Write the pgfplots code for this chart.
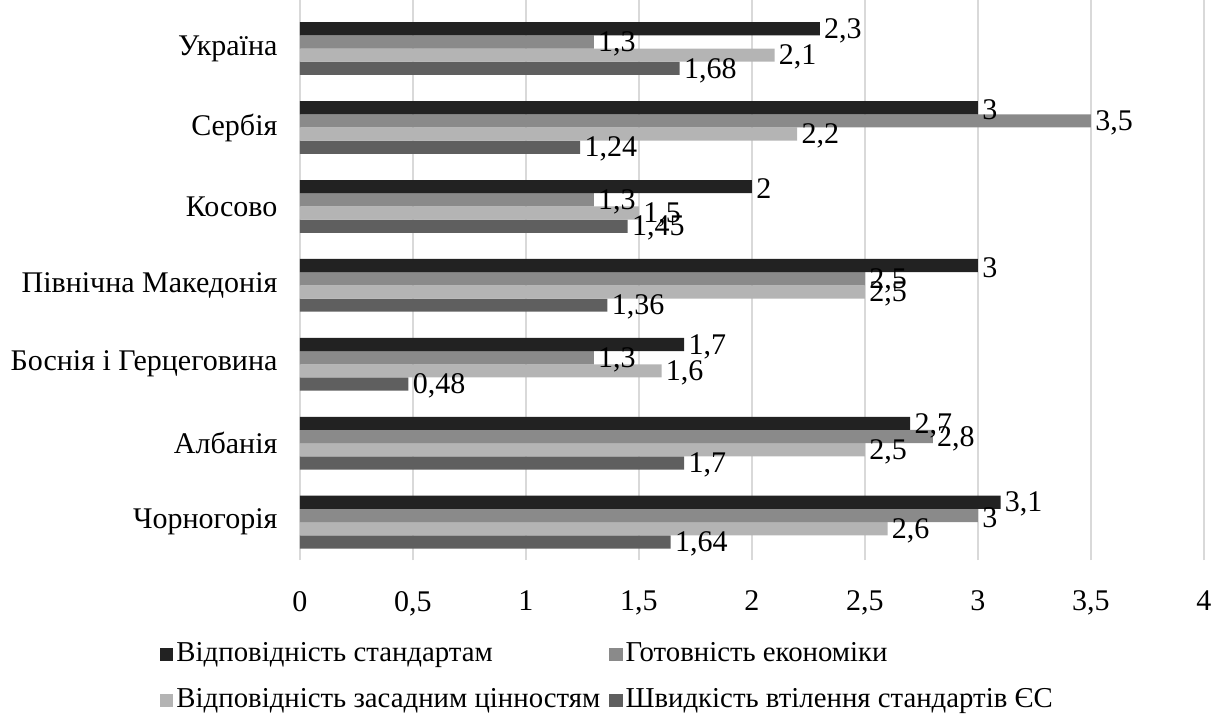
\documentclass[border=0pt]{standalone}
\usepackage{pgfplots}
\pgfplotsset{compat=1.18}
\usepackage{fontspec}
\setmainfont{Liberation Serif}

\definecolor{cStd}{HTML}{222222}
\definecolor{cEcon}{HTML}{8A8A8A}
\definecolor{cVal}{HTML}{B4B4B4}
\definecolor{cSpeed}{HTML}{5F5F5F}
\definecolor{cGrid}{HTML}{D9D9D9}

% y: 6 Україна, 5 Сербія, 4 Косово, 3 Північна Македонія,
%    2 Боснія і Герцеговина, 1 Албанія, 0 Чорногорія
\pgfplotstableread{
y  std  econ  val  speed
6  2.3  1.3   2.1  1.68
5  3    3.5   2.2  1.24
4  2    1.3   1.5  1.45
3  3    2.5   2.5  1.36
2  1.7  1.3   1.6  0.48
1  2.7  2.8   2.5  1.7
0  3.1  3     2.6  1.64
}\datatable

\begin{document}
\begin{tikzpicture}[font=\fontsize{15pt}{18pt}\selectfont]
\begin{axis}[
  scale only axis,
  width=452pt, height=280pt,
  xbar=0pt,
  bar width=6.6pt,
  xmin=0, xmax=4,
  xtick={0,0.5,...,4},
  ymin=-0.48, ymax=6.615,
  ytick={0,...,6},
  yticklabels={Чорногорія,Албанія,Боснія і Герцеговина,Північна Македонія,Косово,Сербія,Україна},
  axis line style={draw=none},
  tick style={draw=none},
  xmajorgrids,
  grid style={color=cGrid, line width=0.75pt},
  /pgf/number format/assume math mode=true,
  /pgf/number format/use comma,
  /pgf/number format/precision=2,
  xticklabel shift=12pt,
  yticklabel shift=3.5pt,
  nodes near coords,
  point meta=x,
  nodes near coords style={anchor=west, inner xsep=2pt, yshift=-1pt, text=black},
  legend columns=2,
  reverse legend,
  legend style={
    at={(-0.155,-0.14)}, anchor=north west,
    draw=none, inner sep=0pt,
    font=\fontsize{14.4pt}{17pt}\selectfont,
    nodes={inner sep=1.5pt, text height=10pt, text depth=3pt, anchor=west},
    row sep=7pt,
    /tikz/every even column/.append style={column sep=3pt},
  },
  legend cell align=left,
  legend image code/.code={\fill[#1] (0pt,-3.3pt) rectangle (6.6pt,3.3pt);},
]
% drawn bottom-up within each group, so the first series sits on top
\addplot[fill=cSpeed, draw=none] table[x=speed, y=y] {\datatable};
\addlegendentry{Швидкість втілення стандартів ЄС}
\addplot[fill=cVal, draw=none] table[x=val, y=y] {\datatable};
\addlegendentry{Відповідність засадним цінностям}
\addplot[fill=cEcon, draw=none] table[x=econ, y=y] {\datatable};
\addlegendentry{Готовність економіки}
\addplot[fill=cStd, draw=none] table[x=std, y=y] {\datatable};
\addlegendentry{Відповідність стандартам}
\end{axis}
\pgfresetboundingbox
\path (-150pt,-79pt) rectangle (461pt,280pt);
\end{tikzpicture}
\end{document}
